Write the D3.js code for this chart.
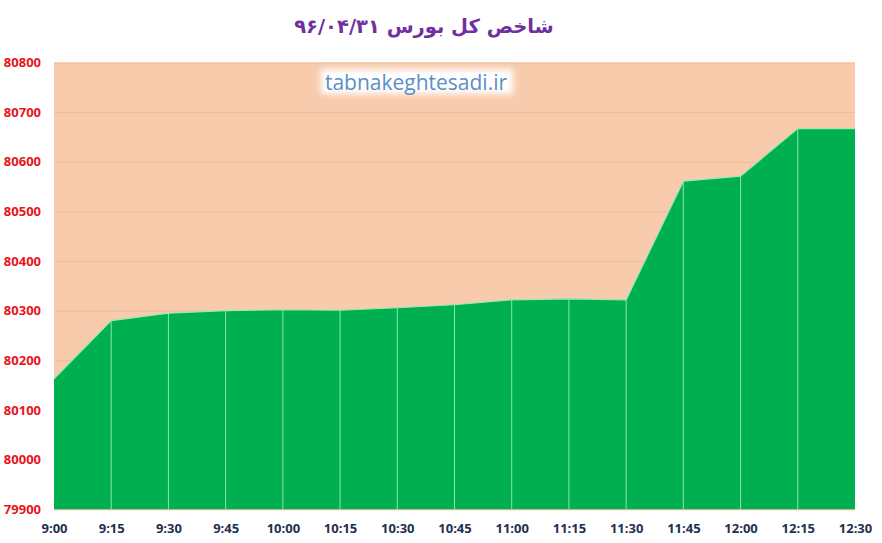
<!DOCTYPE html>
<html>
<head>
<meta charset="utf-8">
<script src="https://cdn.jsdelivr.net/npm/d3@7"></script>
<style>
  body { margin: 0; background: #fff; }
  .y-axis text { fill: #e8141a; font-family: "Open Sans", sans-serif; font-weight: bold; font-size: 13px; }
  .x-axis text { fill: #1f3050; font-family: "Open Sans", sans-serif; font-weight: bold; font-size: 13px; }
  .domain { display: none; }
</style>
</head>
<body>
<svg id="chart"></svg>
<script>
// chart data
const times = ["9:00", "9:15", "9:30", "9:45", "10:00", "10:15", "10:30", "10:45",
               "11:00", "11:15", "11:30", "11:45", "12:00", "12:15", "12:30"];
const indexValues = [80163, 80280, 80295, 80300, 80302, 80301, 80306, 80312,
                     80322, 80324, 80322, 80561, 80571, 80667, 80667];
const yTicks = [79900, 80000, 80100, 80200, 80300, 80400, 80500, 80600, 80700, 80800];
const titleText = "شاخص کل بورس ۹۶/۰۴/۳۱";
const watermark = "tabnakeghtesadi.ir";

const config = {
  width: 882,
  height: 543,
  margin: { top: 62.5, right: 27, bottom: 33.7, left: 54 }
};

const data = times.map((t, i) => ({ time: t, value: indexValues[i] }));

const svg = d3.select("#chart")
  .attr("width", config.width)
  .attr("height", config.height);

const width = config.width - config.margin.left - config.margin.right;
const height = config.height - config.margin.top - config.margin.bottom;

const chart = svg.append("g")
  .attr("transform", `translate(${config.margin.left},${config.margin.top})`);

// scales
const xScale = d3.scalePoint().domain(times).range([0, width]);
const yScale = d3.scaleLinear().domain([79900, 80800]).range([height, 0]);

// peach plot background
chart.append("rect")
  .attr("width", width)
  .attr("height", height)
  .attr("fill", "#f8cbad");

// horizontal gridlines
chart.append("g")
  .attr("class", "grid")
  .call(d3.axisLeft(yScale).tickValues(yTicks).tickSize(-width).tickFormat(""))
  .call(g => g.selectAll("line").attr("stroke", "#f0ba9c").attr("stroke-width", 1));

// green area
const area = d3.area()
  .x(d => xScale(d.time))
  .y0(height)
  .y1(d => yScale(d.value));

chart.append("path")
  .datum(data)
  .attr("d", area)
  .attr("fill", "#00b050");

// drop lines at each point
chart.selectAll(".drop")
  .data(data.slice(1, -1))
  .join("line")
  .attr("class", "drop")
  .attr("x1", d => xScale(d.time))
  .attr("x2", d => xScale(d.time))
  .attr("y1", d => yScale(d.value))
  .attr("y2", height)
  .attr("stroke", "#8fe3a8")
  .attr("stroke-width", 1);

// top outline
const line = d3.line()
  .x(d => xScale(d.time))
  .y(d => yScale(d.value));

chart.append("path")
  .datum(data)
  .attr("d", line)
  .attr("fill", "none")
  .attr("stroke", "#9be8b2")
  .attr("stroke-width", 1.2);

// axes
chart.append("g")
  .attr("class", "y-axis")
  .attr("transform", "translate(-13,0)")
  .call(d3.axisLeft(yScale).tickValues(yTicks).tickSize(0).tickPadding(0).tickFormat(d3.format("d")))
  .call(g => g.selectAll("text").attr("text-anchor", "end").attr("x", 0));

chart.append("g")
  .attr("class", "x-axis")
  .attr("transform", `translate(0,${height})`)
  .call(d3.axisBottom(xScale).tickSize(0).tickPadding(14));

// title
svg.append("text")
  .attr("x", 424)
  .attr("y", 33)
  .attr("text-anchor", "middle")
  .attr("direction", "rtl")
  .attr("fill", "#7030a0")
  .style("font-family", "'DejaVu Sans', sans-serif")
  .style("font-weight", "bold")
  .style("font-size", "19.5px")
  .text(titleText);

// watermark with white glow
const defs = svg.append("defs");
defs.append("filter")
  .attr("id", "glow")
  .attr("x", "-20%").attr("y", "-40%").attr("width", "140%").attr("height", "180%")
  .append("feGaussianBlur")
  .attr("stdDeviation", 3);

svg.append("rect")
  .attr("x", 321)
  .attr("y", 69)
  .attr("width", 192)
  .attr("height", 25)
  .attr("fill", "#ffffff")
  .attr("filter", "url(#glow)");

svg.append("text")
  .attr("x", 416)
  .attr("y", 90)
  .attr("text-anchor", "middle")
  .attr("fill", "#5b8fc8")
  .style("font-family", "'Open Sans', sans-serif")
  .style("font-size", "21px")
  .text(watermark);
</script>
</body>
</html>
